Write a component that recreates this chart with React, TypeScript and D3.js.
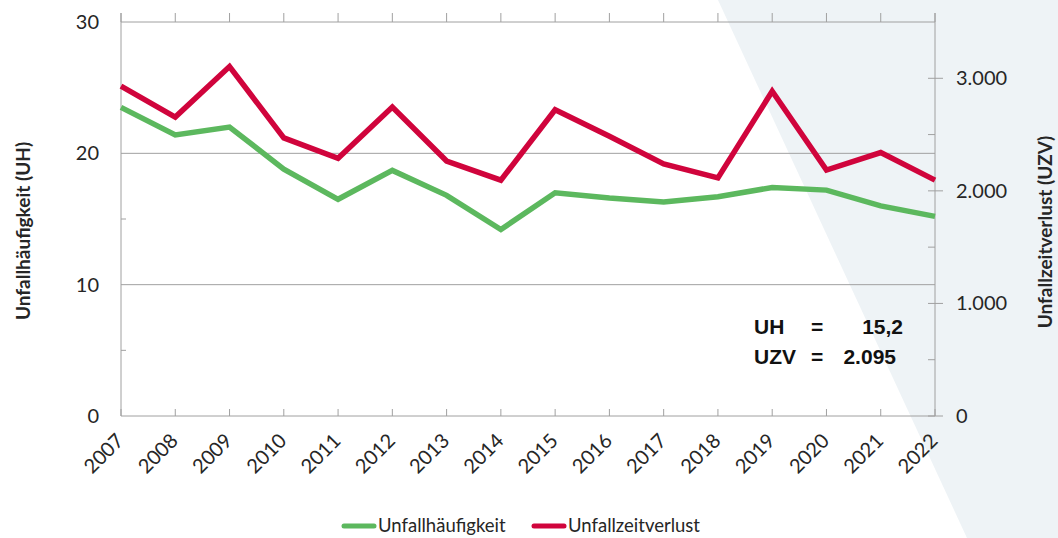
import React from 'react';
import * as d3 from 'd3';

// Werte
const years = ['2007', '2008', '2009', '2010', '2011', '2012', '2013', '2014', '2015', '2016', '2017', '2018', '2019', '2020', '2021', '2022'];
const uh = [23.5, 21.4, 22.0, 18.8, 16.5, 18.7, 16.8, 14.2, 17.0, 16.6, 16.3, 16.7, 17.4, 17.2, 16.0, 15.2];
const uzv = [2930, 2655, 3105, 2470, 2290, 2745, 2265, 2095, 2720, 2485, 2240, 2115, 2885, 2185, 2340, 2095];

const leftTicks = [0, 10, 20, 30];
const leftMinor = [5, 15, 25];
const rightTicks = [0, 1000, 2000, 3000];
const rightMinor = [500, 1500, 2500];

const seriesNames = ['Unfallhäufigkeit', 'Unfallzeitverlust'];
const seriesColors = ['#5cb85e', '#d0043c'];
const noteRows = [
  ['UH', '=', '15,2'],
  ['UZV', '=', '2.095'],
];

const W = 1058;
const H = 538;
const left = 121;
const right = 935;
const top = 22;
const bottom = 416;

const de = d3.formatLocale({ decimal: ',', thousands: '.', grouping: [3], currency: ['', '€'] });
const fmt = de.format(',d');

const FONT = 'Lato, "Open Sans", sans-serif';
const AXIS = '#a0a0a0';
const TEXT = '#262626';

export default function App() {
  const x = d3.scalePoint().domain(years).range([left, right]);
  const yL = d3.scaleLinear().domain([0, 30]).range([bottom, top]);
  const yR = d3.scaleLinear().domain([0, 3500]).range([bottom, top]);

  const lineL = d3.line<number>().x((_, i) => x(years[i])!).y(d => yL(d));
  const lineR = d3.line<number>().x((_, i) => x(years[i])!).y(d => yR(d));

  return (
    <svg width={W} height={H} style={{ position: 'absolute', left: 0, top: 0 }} fontFamily={FONT}>
      <rect width={W} height={H} fill="#fff" />
      <polygon points={`718,0 ${W},0 ${W},${H} 967,${H}`} fill="#eef3f6" />

      {/* Gitterlinien */}
      {leftTicks.filter(t => t > 0).map(t => (
        <line key={t} x1={left} x2={right} y1={yL(t)} y2={yL(t)} stroke={AXIS} strokeWidth={1} />
      ))}

      {/* Achsen */}
      <line x1={left} x2={left} y1={13} y2={bottom} stroke={AXIS} />
      <line x1={right} x2={right} y1={13} y2={bottom} stroke={AXIS} />
      <line x1={left} x2={right} y1={bottom} y2={bottom} stroke={AXIS} />
      {years.map(y => (
        <g key={y}>
          <line x1={x(y)} x2={x(y)} y1={13} y2={top} stroke={AXIS} />
          <line x1={x(y)} x2={x(y)} y1={bottom - 7} y2={bottom} stroke={AXIS} />
        </g>
      ))}
      {leftMinor.map(t => (
        <line key={t} x1={left} x2={left + 5} y1={yL(t)} y2={yL(t)} stroke={AXIS} />
      ))}
      {rightTicks.map(t => (
        <line key={t} x1={right - 7} x2={right + 8} y1={yR(t)} y2={yR(t)} stroke={AXIS} />
      ))}
      {rightMinor.map(t => (
        <line key={t} x1={right - 7} x2={right} y1={yR(t)} y2={yR(t)} stroke={AXIS} />
      ))}

      {/* Beschriftungen */}
      {leftTicks.map(t => (
        <text key={t} x={99} y={yL(t)} dy="0.35em" textAnchor="end" fontSize={20} fill={TEXT}>{t}</text>
      ))}
      {rightTicks.map(t => (
        <text key={t} x={956} y={yR(t)} dy="0.35em" fontSize={20} fill={TEXT}>{fmt(t)}</text>
      ))}
      {years.map(y => (
        <text key={y} transform={`translate(${x(y)! + 4},442) rotate(-45)`} textAnchor="end" fontSize={20} fill={TEXT}>{y}</text>
      ))}
      <text transform="translate(30,231) rotate(-90)" textAnchor="middle" fontSize={19} fontWeight="bold" fill={TEXT}>Unfallhäufigkeit (UH)</text>
      <text transform="translate(1052,232) rotate(-90)" textAnchor="middle" fontSize={19} fontWeight="bold" fill={TEXT}>Unfallzeitverlust (UZV)</text>

      {/* Linien */}
      <path d={lineL(uh)!} fill="none" stroke={seriesColors[0]} strokeWidth={5.5} />
      <path d={lineR(uzv)!} fill="none" stroke={seriesColors[1]} strokeWidth={5.5} />

      {/* Kennzahlen */}
      <g fontFamily='"Liberation Sans", Arial, sans-serif' fontWeight="bold" fontSize={21} fill="#111">
        {noteRows.map((r, i) => (
          <g key={r[0]}>
            <text x={754} y={334 + i * 30}>{r[0]}</text>
            <text x={811} y={334 + i * 30}>{r[1]}</text>
            <text x={i === 0 ? 903 : 896} y={334 + i * 30} textAnchor="end">{r[2]}</text>
          </g>
        ))}
      </g>

      {/* Legende */}
      {seriesNames.map((n, i) => {
        const lx = i === 0 ? 342 : 532;
        return (
          <g key={n}>
            <line x1={lx + 2} x2={lx + 32} y1={526} y2={526} stroke={seriesColors[i]} strokeWidth={5} strokeLinecap="round" />
            <text x={lx + 36} y={532} fontSize={18.5} fill={TEXT}>{n}</text>
          </g>
        );
      })}
    </svg>
  );
}
